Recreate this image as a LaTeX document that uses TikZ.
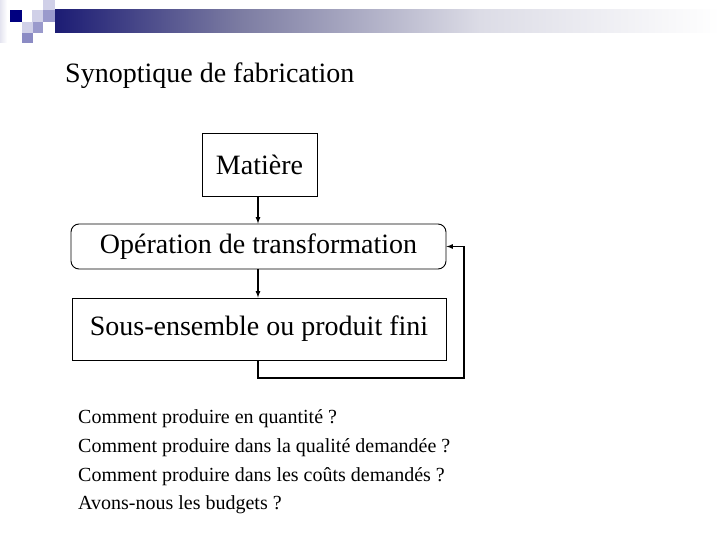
\documentclass[tikz,border=0pt]{standalone}
\usepackage{fontspec}
\setmainfont{Liberation Serif}
\usepackage{xcolor}
\definecolor{marine}{HTML}{000080}
\definecolor{bbarre}{HTML}{1C1C74}
\definecolor{mbarre}{HTML}{7C7CA2}
\definecolor{lbarre}{HTML}{DCDCE6}
\definecolor{lcarre}{HTML}{D0D0E8}
\definecolor{mcarre}{HTML}{9A9ACC}
\definecolor{pcarre}{HTML}{E4E4F0}
\usetikzlibrary{calc}
\usetikzlibrary{positioning}

\begin{document}
\begin{tikzpicture}[x=1pt,y=-1pt,
		boite/.style={draw,line width=0.9pt,inner sep=0pt,font=\fontsize{28}{30}\selectfont},
		question/.style={anchor=base west,inner sep=0pt,font=\fontsize{20}{22}\selectfont},
		fleche/.style={line width=1.2pt,-latex}]
				\useasboundingbox (0,0) rectangle (720,540);
				\fill[left color=pcarre,right color=white] (0,0) rectangle (7,43);
				\fill[marine] (10,10) rectangle (22,22);
				\fill[lcarre] (43,0) rectangle (55,10);
				\fill[lcarre] (32,10) rectangle (43,22);
				\fill[mcarre] (43,10) rectangle (55,22);
				\fill[lcarre] (22,22) rectangle (33,33);
				\fill[mcarre] (33,22) rectangle (43,33);
				\fill[mcarre!90!marine] (22,33) rectangle (33,43);
				\fill[left color=bbarre,right color=mbarre] (55,10) rectangle (240,33);
				\fill[left color=mbarre,right color=lbarre] (240,10) rectangle (480,33);
				\fill[left color=lbarre,right color=white] (480,10) rectangle (720,33);
				\node[anchor=base west,inner sep=0pt,font=\fontsize{28}{30}\selectfont] (titre) at (65,83) {Synoptique de fabrication};
				\node[boite,minimum width=115pt,minimum height=63pt] (matiere) at (259.5,164.5) {Matière};
				\node[boite,rounded corners=8pt,minimum width=375pt,minimum height=45pt] (operation) at (258.5,246.5) {Opération de transformation};
				\node[boite,minimum width=374pt,minimum height=62pt] (produit) at (259,329) {Sous-ensemble ou produit fini};
				\coordinate (retour) at (464,378);
				\draw[fleche] (matiere.south -| 258,0) -- (operation.north -| 258,0);
				\draw[fleche] (operation.south -| 258,0) -- (produit.north -| 258,0);
				\draw[fleche] (produit.south -| 258,0) |- (retour) |- (operation.east);
				\node[question] (q1) at (78,423) {Comment produire en quantité ?};
				\node[question] (q2) at (78,452) {Comment produire dans la qualité demandée ?};
				\node[question] (q3) at (78,481) {Comment produire dans les coûts demandés ?};
				\node[question] (q4) at (78,509.5) {Avons-nous les budgets ?};
			\end{tikzpicture}
\end{document}
